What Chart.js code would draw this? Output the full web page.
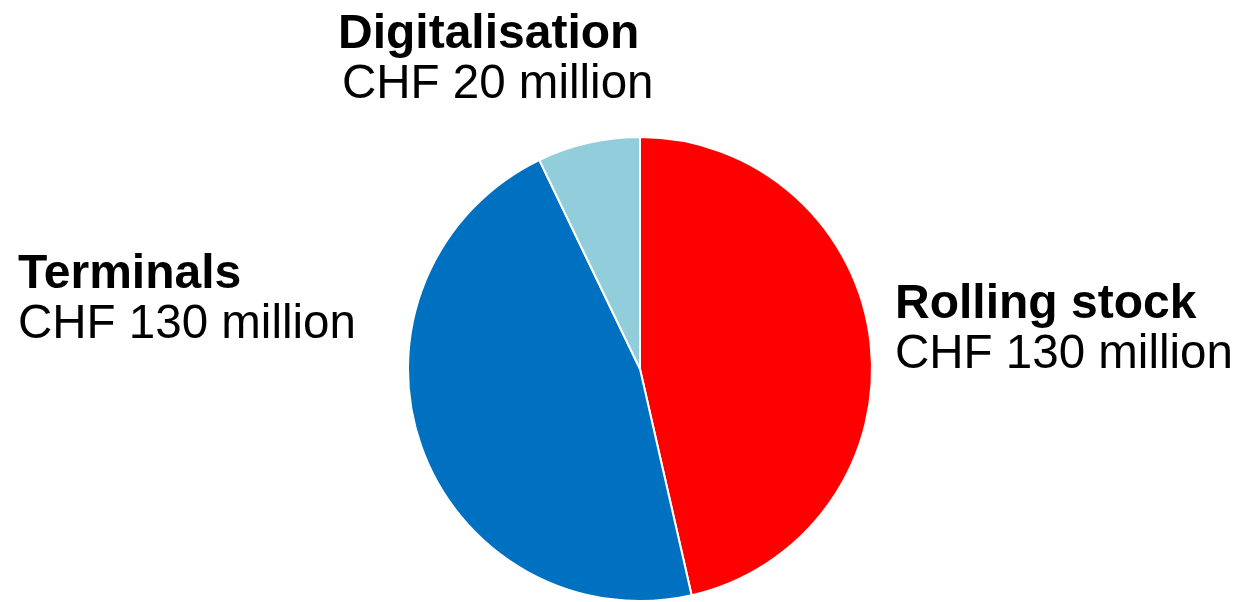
<!DOCTYPE html>
<html>
<head>
<meta charset="utf-8">
<script src="https://cdn.jsdelivr.net/npm/chart.js@4"></script>
<style>
  html, body { margin: 0; padding: 0; background: #fff; }
  #wrap { width: 1240px; height: 602px; position: relative; }
</style>
</head>
<body>
<div id="wrap"><canvas id="pie"></canvas></div>
<script>
const categories = ['Rolling stock', 'Terminals', 'Digitalisation'];
const values = [130, 130, 20];
const valueLabels = ['CHF 130 million', 'CHF 130 million', 'CHF 20 million'];
const colors = ['#FF0000', '#0070C0', '#92CDDC'];

// where each two-line label sits (left x, baseline of first line)
const labelPos = [
  { x: 895, y: 318 },
  { x: 18, y: 288 },
  { x: 338, y: 48, x2: 342 },
];

const sideLabels = {
  id: 'sideLabels',
  afterDraw(chart) {
    const ctx = chart.ctx;
    ctx.save();
    ctx.fillStyle = '#000';
    ctx.textAlign = 'left';
    ctx.textBaseline = 'alphabetic';
    categories.forEach((name, i) => {
      const p = labelPos[i];
      ctx.font = 'bold 48px "Liberation Sans", Arial, sans-serif';
      ctx.fillText(name, p.x, p.y);
      ctx.font = '47.5px "Liberation Sans", Arial, sans-serif';
      ctx.fillText(valueLabels[i], p.x2 || p.x, p.y + 50);
    });
    ctx.restore();
  }
};

new Chart(document.getElementById('pie').getContext('2d'), {
  type: 'pie',
  data: {
    labels: categories,
    datasets: [{
      data: values,
      backgroundColor: colors,
      borderColor: '#FFFFFF',
      borderWidth: 2,
    }]
  },
  options: {
    responsive: true, maintainAspectRatio: false,
    animation: false,
    layout: { padding: { top: 136, bottom: 0, left: 400, right: 360 } },
    plugins: { legend: { display: false }, tooltip: { enabled: false } },
  },
  plugins: [sideLabels]
});
</script>
</body>
</html>
